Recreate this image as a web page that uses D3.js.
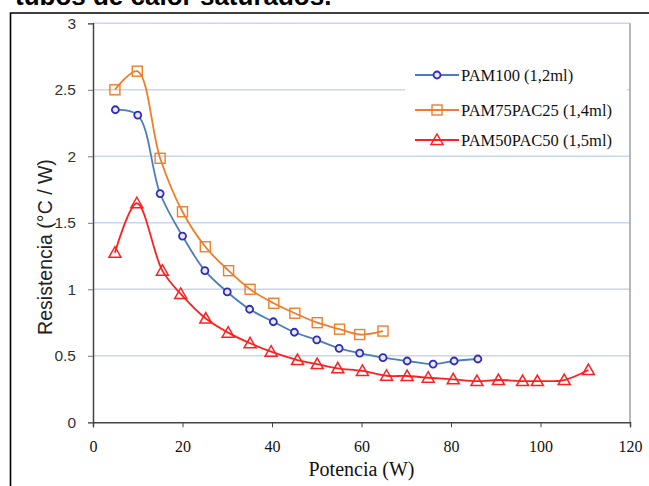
<!DOCTYPE html>
<html>
<head>
<meta charset="utf-8">
<script src="https://cdn.jsdelivr.net/npm/d3@7"></script>
<style>
  body { margin: 0; background: #fff; }
</style>
</head>
<body>
<script>
const width = 649
const height = 486

const margin = { top: 23.3, right: 19, bottom: 63.7, left: 93 }
const plotW = width - margin.left - margin.right
const plotH = height - margin.top - margin.bottom

const serif = '"Liberation Serif", "Times New Roman", serif'
const sans = '"Liberation Sans", Arial, sans-serif'

// data
const pam100_x = [5, 10, 15, 20, 25, 30, 35, 40.3, 45, 50, 55, 59.6, 64.8, 70.2, 76, 80.7, 86]
const pam100_y = [2.35, 2.31, 1.72, 1.40, 1.14, 0.98, 0.85, 0.756, 0.677, 0.62, 0.556, 0.52, 0.486, 0.461, 0.438, 0.461, 0.476]

const pam75_x = [4.9, 9.9, 15, 20, 25.1, 30.3, 35.1, 40.4, 45.1, 50.1, 55.1, 59.6, 64.8]
const pam75_y = [2.5, 2.64, 1.985, 1.583, 1.32, 1.14, 1.0, 0.895, 0.82, 0.749, 0.70, 0.66, 0.686]

const pam50_x = [4.9, 9.8, 15.5, 19.6, 25.2, 30.2, 35.1, 39.8, 45.7, 50.1, 54.7, 60.2, 65.6, 70.2, 74.9, 80.5, 85.8, 90.6, 96, 99.3, 105.3, 110.7]
const pam50_y = [1.275, 1.647, 1.14, 0.965, 0.78, 0.674, 0.594, 0.531, 0.468, 0.438, 0.406, 0.386, 0.35, 0.348, 0.335, 0.323, 0.31, 0.318, 0.31, 0.31, 0.318, 0.393]

const series_names = ['PAM100 (1,2ml)', 'PAM75PAC25 (1,4ml)', 'PAM50PAC50 (1,5ml)']
const x_ticks = [0, 20, 40, 60, 80, 100, 120]
const y_ticks = [0, 0.5, 1, 1.5, 2, 2.5, 3]

const series = [
  { name: series_names[0], xs: pam100_x, ys: pam100_y, line: '#4a7ebb', mark: '#2e2eb8', shape: 'circle' },
  { name: series_names[1], xs: pam75_x, ys: pam75_y, line: '#f07d2a', mark: '#f07d2a', shape: 'square' },
  { name: series_names[2], xs: pam50_x, ys: pam50_y, line: '#ff1f1f', mark: '#ff1f1f', shape: 'triangle' }
]

const x = d3.scaleLinear().domain([0, 120]).range([0, plotW])
const y = d3.scaleLinear().domain([0, 3]).range([plotH, 0])

const line = d3.line()
  .x((d) => x(d[0]))
  .y((d) => y(d[1]))
  .curve(d3.curveCatmullRom.alpha(0.5))

const svg = d3.select('body')
  .append('svg')
    .attr('width', width)
    .attr('height', height)

// heading above the frame, cut by the top edge as in the source
svg.append('text')
  .attr('x', 15)
  .attr('y', 5)
  .style('font-family', sans)
  .style('font-weight', 'bold')
  .style('font-size', '26px')
  .attr('fill', '#000')
  .text('tubos de calor saturados.')

// outer black frame
svg.append('path')
  .attr('d', 'M10.5 ' + height + 'V13H' + (width + 2))
  .attr('fill', 'none')
  .attr('stroke', '#000')
  .attr('stroke-width', 1.6)

const g = svg.append('g')
  .attr('transform', 'translate(' + [margin.left, margin.top] + ')')

// grid
g.append('g')
  .selectAll('line')
  .data(y_ticks.filter((d) => d > 0))
  .join('line')
    .attr('x1', 0)
    .attr('x2', plotW)
    .attr('y1', (d) => y(d))
    .attr('y2', (d) => y(d))
    .attr('stroke', '#c9d6ec')
    .attr('stroke-width', 1.5)

// right border
g.append('line')
  .attr('x1', plotW).attr('x2', plotW)
  .attr('y1', 0).attr('y2', plotH)
  .attr('stroke', '#a0a0a0')
  .attr('stroke-width', 1.5)

// axes
const axis_y = g.append('g')
  .call(d3.axisLeft(y).tickValues(y_ticks).tickSize(5).tickPadding(12).tickFormat(d3.format('')))
axis_y.select('.domain').attr('stroke', '#444').attr('stroke-width', 1.5)
axis_y.selectAll('.tick line').attr('stroke', '#777')
axis_y.selectAll('text')
  .style('font-family', sans)
  .style('font-size', '15.5px')
  .attr('fill', '#333')

const axis_x = g.append('g')
  .attr('transform', 'translate(0,' + plotH + ')')
  .call(d3.axisBottom(x).tickValues(x_ticks).tickSize(5).tickPadding(13))
axis_x.select('.domain').attr('stroke', '#444').attr('stroke-width', 1.5)
axis_x.selectAll('.tick line').attr('stroke', '#444')
axis_x.selectAll('text')
  .style('font-family', serif)
  .style('font-size', '16px')
  .attr('fill', '#111')

g.append('text')
  .attr('x', x(60))
  .attr('y', plotH + 54)
  .attr('text-anchor', 'middle')
  .style('font-family', serif)
  .style('font-size', '20px')
  .attr('fill', '#111')
  .text('Potencia (W)')

svg.append('text')
  .attr('transform', 'translate(52,247) rotate(-90)')
  .attr('text-anchor', 'middle')
  .style('font-family', sans)
  .style('font-size', '19.5px')
  .attr('fill', '#222')
  .text('Resistencia (°C / W)')

// markers
function drawMarker(sel, shape, color) {
  if (shape === 'circle') {
    sel.append('circle').attr('r', 3.5)
      .attr('fill', '#e8e8ff').attr('stroke', color).attr('stroke-width', 1.8)
  } else if (shape === 'square') {
    sel.append('rect').attr('x', -5).attr('y', -5).attr('width', 10).attr('height', 10)
      .attr('fill', 'none').attr('stroke', color).attr('stroke-width', 1.4)
  } else {
    sel.append('path').attr('d', 'M0 -6L6 4.5H-6Z')
      .attr('fill', 'none').attr('stroke', color).attr('stroke-width', 1.5)
  }
}

series.forEach((s) => {
  const pts = s.xs.map((v, i) => [v, s.ys[i]])
  g.append('path')
    .attr('d', line(pts))
    .attr('fill', 'none')
    .attr('stroke', s.line)
    .attr('stroke-width', 1.8)
  pts.forEach((p) => {
    const m = g.append('g').attr('transform', 'translate(' + [x(p[0]), y(p[1])] + ')')
    drawMarker(m, s.shape, s.mark)
  })
})

// legend
const legend_rows = [75, 110, 140]
svg.append('rect')
  .attr('x', 405).attr('y', 58)
  .attr('width', 222).attr('height', 94)
  .attr('fill', '#fff')

series.forEach((s, i) => {
  const ly = legend_rows[i]
  svg.append('line')
    .attr('x1', 415).attr('x2', 459)
    .attr('y1', ly).attr('y2', ly)
    .attr('stroke', s.line)
    .attr('stroke-width', 2)
  const m = svg.append('g').attr('transform', 'translate(' + [437, ly] + ')')
  drawMarker(m, s.shape, s.mark)
  svg.append('text')
    .attr('x', 461)
    .attr('y', ly)
    .attr('dy', '0.35em')
    .style('font-family', serif)
    .style('font-size', '16.5px')
    .attr('fill', '#111')
    .text(s.name)
})
</script>
</body>
</html>
